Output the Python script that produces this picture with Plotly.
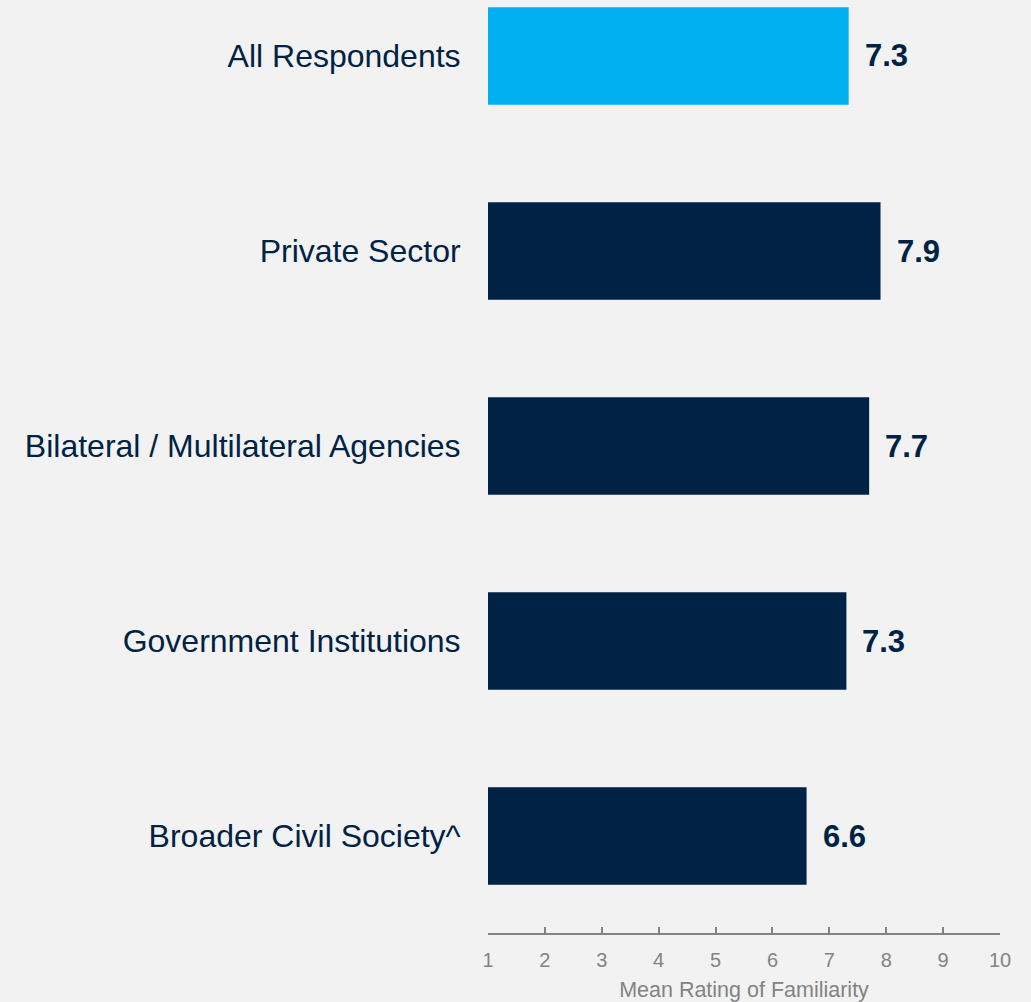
import plotly.graph_objects as go

categories = ["Broader Civil Society^", "Government Institutions",
              "Bilateral / Multilateral Agencies", "Private Sector", "All Respondents"]
values = [6.6, 7.3, 7.7, 7.9, 7.34]
bar_colors = ["#002345", "#002345", "#002345", "#002345", "#00B0F0"]
x_ticks = [1, 2, 3, 4, 5, 6, 7, 8, 9, 10]
x_title = "Mean Rating of Familiarity"

NAVY = "#002345"
GRAY = "#838383"

fig = go.Figure()
fig.add_trace(go.Bar(
    y=categories, x=values, orientation="h",
    marker=dict(color=bar_colors, line=dict(width=0)),
    width=0.5, hoverinfo="x+y",
))

for c, v in zip(categories, values):
    fig.add_annotation(x=v, y=c, text=f"<b>{v:.1f}</b>", showarrow=False,
                       xanchor="left", yanchor="middle", xshift=14,
                       font=dict(family="Liberation Sans, Arial, sans-serif", size=31, color=NAVY))

fig.update_layout(
    width=1031, height=1002,
    margin=dict(l=488, r=31, t=0, b=69),
    paper_bgcolor="#F2F2F2", plot_bgcolor="#F2F2F2",
    showlegend=False,
    font=dict(family="Liberation Sans, Arial, sans-serif"),
)
fig.update_xaxes(
    range=[1, 10], tickvals=x_ticks, ticktext=[str(t) for t in x_ticks],
    showgrid=False, zeroline=False,
    showline=True, linecolor=GRAY, linewidth=2,
    ticks="inside", ticklen=6, tickwidth=2, tickcolor=GRAY,
    ticklabelstandoff=8,
    tickfont=dict(size=20, color=GRAY),
    title=dict(text=x_title, font=dict(size=21.5, color=GRAY), standoff=13),
    automargin=False, fixedrange=True,
)
fig.update_yaxes(
    type="category", categoryorder="array", categoryarray=categories,
    range=[-0.497, 4.287],
    showgrid=False, zeroline=False, showline=False,
    ticks="outside", ticklen=20, tickcolor="rgba(0,0,0,0)",
    tickfont=dict(size=32, color=NAVY),
    automargin=False, fixedrange=True,
)

fig.write_html("out.html", config={"displayModeBar": False},
               post_script="document.body.style.margin='0';document.body.style.background='#F2F2F2';")
